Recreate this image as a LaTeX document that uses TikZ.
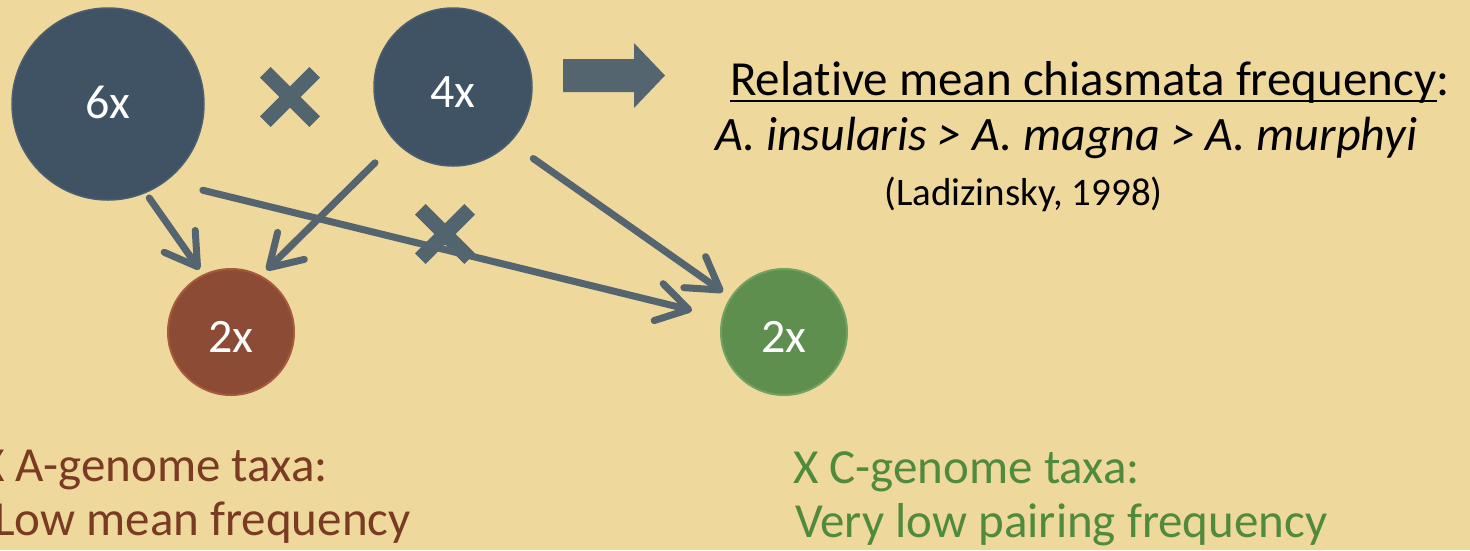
\documentclass[tikz,border=0pt]{standalone}
\usepackage{fontspec}
\setmainfont{Carlito}[Ligatures=NoCommon]
\usetikzlibrary{arrows.meta}
\definecolor{bg}{HTML}{EFD89C}
\definecolor{slate}{HTML}{3F5364}
\definecolor{slaterim}{HTML}{4B5F70}
\definecolor{arrowc}{HTML}{55656F}
\definecolor{crossc}{HTML}{52656F}
\definecolor{redfill}{HTML}{8C4B34}
\definecolor{redrim}{HTML}{A65B3E}
\definecolor{greenfill}{HTML}{5E8F4F}
\definecolor{greenrim}{HTML}{72A262}
\definecolor{browntext}{HTML}{7A3B23}
\definecolor{greentext}{HTML}{4F8A3D}
\tikzset{
  bigc/.style={circle, fill=slate, draw=slaterim, line width=1.5pt, inner sep=0pt},
  redc/.style={circle, fill=redfill, draw=redrim, line width=2pt, inner sep=0pt},
  greenc/.style={circle, fill=greenfill, draw=greenrim, line width=2pt, inner sep=0pt},
  lbl/.style={anchor=base, text=white, inner sep=0pt, font=\fontsize{48}{56}\selectfont},
  conn/.style={draw=arrowc, line width=7pt, line cap=round, line join=round,
    -{Straight Barb[length=31pt, width=38pt, round]}},
  xmark/.pic={\draw[crossc, line width=15pt] (-24.7,-24.7) -- (24.7,24.7) (-24.7,24.7) -- (24.7,-24.7);},
  toptext/.style={anchor=base west, inner sep=0pt, text=black},
  bottext/.style={anchor=base west, inner sep=0pt, font=\fontsize{49}{58}\selectfont},
}
\begin{document}
\begin{tikzpicture}[x=1pt,y=-1pt]
\useasboundingbox (0,0) rectangle (1470,550);
\fill[bg] (0,0) rectangle (1470,550);
\clip (0,0) rectangle (1470,550);

% circles
\node[bigc, minimum size=192pt] (c6) at (108,104) {};
\node[bigc, minimum size=158pt] (c4) at (453,87) {};
\node[redc, minimum size=126pt] (ca) at (231,332) {};
\node[greenc, minimum size=126pt] (cc) at (784,332) {};

\node[lbl] (l6) at (108,118) {6x};
\node[lbl] (l4) at (453,107) {4x};
\node[lbl] (la) at (231,352) {2x};
\node[lbl] (lc) at (784,352) {2x};

% crosses
\pic at (290,97) {xmark};
\pic at (445,234) {xmark};

% block arrow
\fill[arrowc] (563,59) -- (634,59) -- (634,43) -- (665,75.5) -- (634,108) -- (634,92) -- (563,92) -- cycle;

% connectors
\draw[conn, shorten <=6pt, shorten >=6pt] (c6.-67) -- (ca.116);
\draw[conn, shorten <=37.7pt, shorten >=30.4pt] (c6.-53.3) -- (cc.167.4);
\draw[conn, shorten <=29pt, shorten >=7.6pt] (c4.224.7) -- (ca.62);
\draw[conn, shorten <=28pt, shorten >=9pt] (c4.-44.6) -- (cc.147.4);

% top text
\node[toptext, font=\fontsize{49}{58}\selectfont] (t1) at (730,95) {Relative mean chiasmata frequency};
\node[toptext, anchor=base west, font=\fontsize{49}{58}\selectfont] (t1c) at (t1.base east) {:};
\draw[black, line width=2.5pt] ([yshift=-6pt]t1.base west) -- ([yshift=-6pt]t1.base east);
\node[toptext, font=\fontsize{48}{58}\selectfont\itshape] (t2) at (715,150) {A. insularis > A. magna > A. murphyi};
\node[toptext, font=\fontsize{39}{47}\selectfont] (t3) at (884,205) {(Ladizinsky, 1998)};

% bottom text (cut at the left edge, as in the reference)
\node[bottext, text=browntext] (ba1) at (-21,481) {X A-genome taxa:};
\node[bottext, text=browntext] (ba2) at (-6,535) {Low mean frequency};
\node[bottext, text=greentext] (bc1) at (793,483) {X C-genome taxa:};
\node[bottext, text=greentext] (bc2) at (795,537) {Very low pairing frequency};
\end{tikzpicture}
\end{document}
